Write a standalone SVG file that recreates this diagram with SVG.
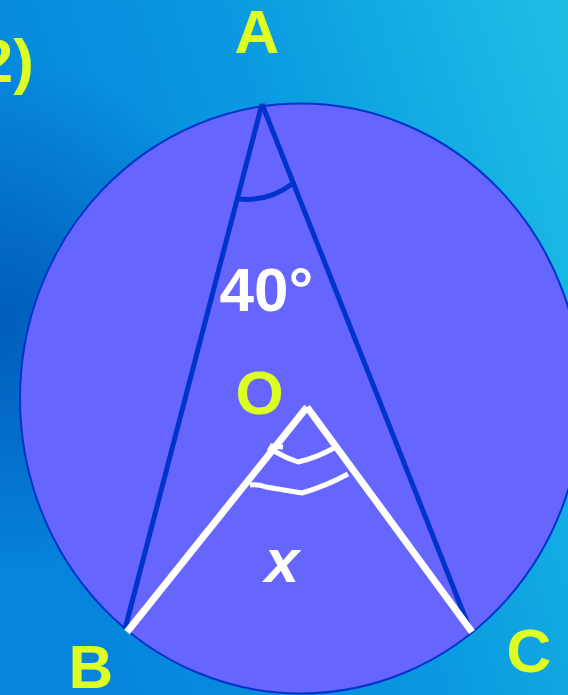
<svg xmlns="http://www.w3.org/2000/svg" width="568" height="695" viewBox="0 0 568 695">
<defs>
<linearGradient id="bg" x1="0" y1="0.5" x2="1" y2="0.1">
<stop offset="0" stop-color="#0684dc"/>
<stop offset="0.5" stop-color="#0a98e0"/>
<stop offset="1" stop-color="#1cbee4"/>
</linearGradient>
<radialGradient id="shade" cx="0" cy="320" r="260" gradientUnits="userSpaceOnUse">
<stop offset="0" stop-color="#0058b8" stop-opacity="0.9"/>
<stop offset="1" stop-color="#0058b8" stop-opacity="0"/>
</radialGradient>
<style>
.lbl{font-family:"Liberation Sans",Arial,sans-serif;font-weight:bold;fill:#ddff22;font-size:62px}
.wt{font-family:"Liberation Sans",Arial,sans-serif;font-weight:bold;fill:#ffffff}
.blue{stroke:#0033cc;stroke-width:5;fill:none}
.white{stroke:#ffffff;stroke-width:7;fill:none}
.arc{stroke:#ffffff;stroke-width:5;fill:none;stroke-linejoin:round}
</style>
</defs>
<rect width="568" height="695" fill="url(#bg)"/>
<rect width="568" height="695" fill="url(#shade)"/>
<g id="circle">
<ellipse cx="301" cy="398.5" rx="281" ry="295" fill="#6666ff" stroke="#0033cc" stroke-width="2"/>
</g>
<g id="connectors">
<line class="blue" x1="262" y1="104" x2="125" y2="629"/>
<line class="blue" x1="262" y1="104" x2="469" y2="627"/>
<path class="blue" d="M238,199 Q268,202 292,184" stroke-width="4"/>
<line class="white" x1="307" y1="407" x2="127" y2="632"/>
<line class="white" x1="307" y1="407" x2="472" y2="632"/>
<path class="arc" d="M268,448 L274,451 Q286,458 298,462 Q316,458 334,448"/>
<path class="arc" d="M270,446 L283,447"/>
<path class="arc" d="M250,485 Q258,484 266,487 Q284,490 302,493 Q326,486 348,474"/>
</g>
<g id="label-2"><text class="lbl" x="34" y="82" text-anchor="end">2)</text></g>
<g id="node-A"><text class="lbl" x="257" y="53" text-anchor="middle">A</text></g>
<g id="node-O"><text class="lbl" x="259.5" y="414" text-anchor="middle">O</text></g>
<g id="node-B"><text class="lbl" x="91" y="688" text-anchor="middle">B</text></g>
<g id="node-C"><text class="lbl" x="529" y="672" text-anchor="middle">C</text></g>
<g id="angle-40"><text class="wt" x="266.5" y="311" text-anchor="middle" font-size="62">40°</text></g>
<g id="angle-x"><text class="wt" x="282" y="582" text-anchor="middle" font-size="62" font-style="italic">x</text></g>
</svg>
